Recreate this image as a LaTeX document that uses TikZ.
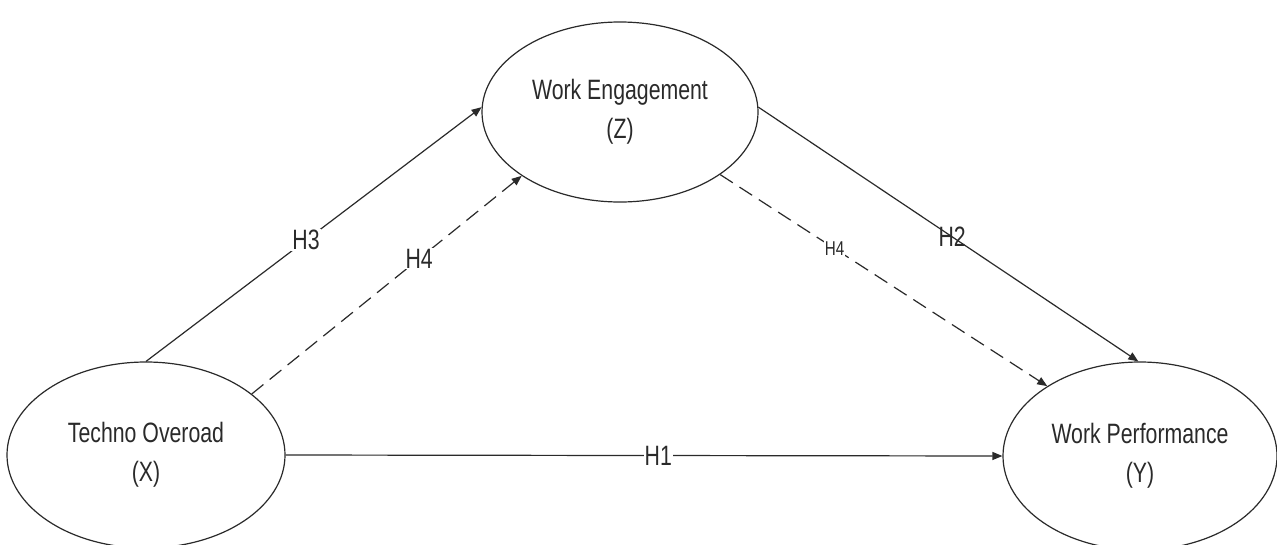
\documentclass[tikz,border=0pt]{standalone}
\usepackage{fontspec}
\setmainfont{Liberation Sans}[FakeStretch=0.76]
\usetikzlibrary{shapes.geometric,arrows.meta}
\definecolor{ink}{HTML}{2A2A2A}
\begin{document}
\begin{tikzpicture}[x=1pt,y=-1pt,
 var/.style={draw=ink, text=ink, ellipse, line width=1.2pt, inner sep=0pt, align=center, font=\fontsize{28}{39}\selectfont},
 arr/.style={draw=ink, line width=1.2pt, -{Triangle[length=10pt,width=8pt]}},
 darr/.style={arr, dash pattern=on 15pt off 8pt},
 lbl/.style={fill=white, text=ink, inner sep=1pt, font=\fontsize{28}{34}\selectfont},
 slbl/.style={lbl, font=\fontsize{20}{24}\selectfont},
]
\useasboundingbox[fill=white] (0,0) rectangle (1277,544);
\node[var, minimum width=276pt, minimum height=180pt] (we) at (620,112) {Work Engagement\\(Z)};
\node[var, minimum width=278pt, minimum height=186pt] (to) at (146,455) {Techno Overoad\\(X)};
\node[var, minimum width=274pt, minimum height=188pt] (wp) at (1140,456) {Work Performance\\(Y)};

\draw[arr] (to.90) -- (we.178) node[lbl, pos=0.477] (h3) {H3};
\draw[darr] (to.30.7) -- (we.213) node[lbl, pos=0.62] (h4a) {H4};
\draw[arr] (we.2) -- (wp.91) node[lbl, fill=none, pos=0.51] (h2) {H2};
\draw[darr] (we.328.6) -- (wp.143) node[slbl, pos=0.35] (h4b) {H4};
\draw[arr] (to.0) -- (wp.180) node[lbl, pos=0.52] (h1) {H1};
\end{tikzpicture}
\end{document}
